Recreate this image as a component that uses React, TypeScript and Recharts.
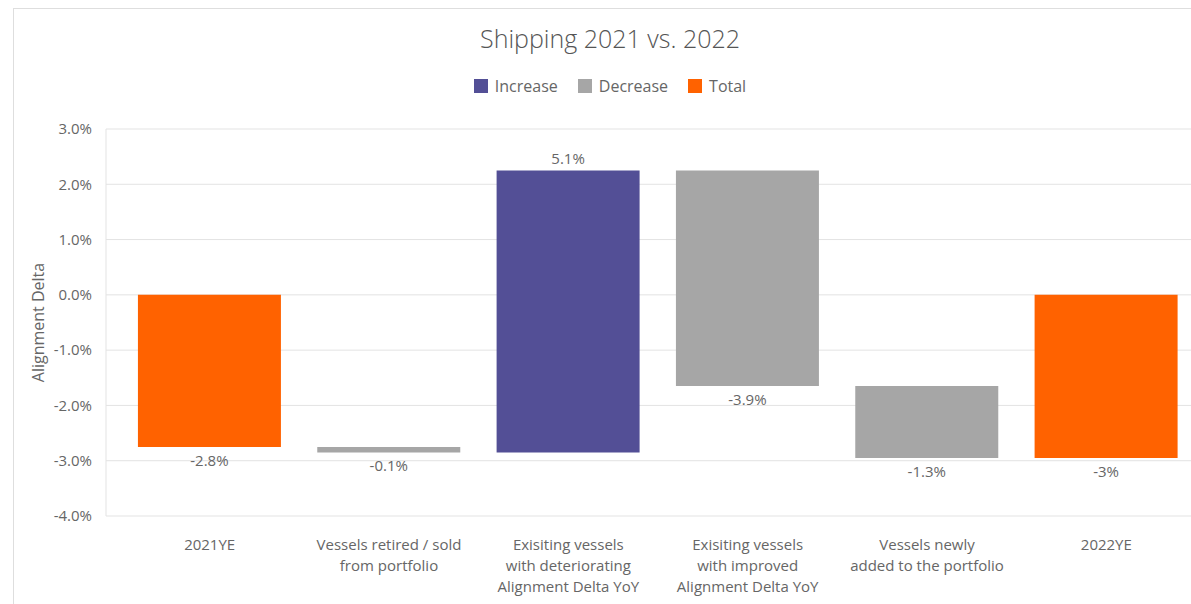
import React from "react";
import { BarChart, Bar, XAxis, YAxis, CartesianGrid, Cell, LabelList, Label } from "recharts";

const categories = [
  "2021YE",
  "Vessels retired / sold\nfrom portfolio",
  "Exisiting vessels\nwith deteriorating\nAlignment Delta YoY",
  "Exisiting vessels\nwith improved\nAlignment Delta YoY",
  "Vessels newly\nadded to the portfolio",
  "2022YE",
];
const kinds = ["total", "decrease", "increase", "decrease", "decrease", "total"];
const starts = [0, -2.75, -2.85, 2.25, -1.65, 0];
const ends = [-2.75, -2.85, 2.25, -1.65, -2.95, -2.95];
const valueLabels = ["-2.8%", "-0.1%", "5.1%", "-3.9%", "-1.3%", "-3%"];
const yTicks = [-4, -3, -2, -1, 0, 1, 2, 3];

const COLORS: Record<string, string> = { increase: "#534f96", decrease: "#a6a6a6", total: "#ff6200" };
const LEGEND = [
  { key: "increase", label: "Increase" },
  { key: "decrease", label: "Decrease" },
  { key: "total", label: "Total" },
];
const FONT = "'Open Sans', 'Noto Sans', sans-serif";
const TEXT = "#666";

const data = categories.map((name, i) => ({
  name,
  range: [Math.min(starts[i], ends[i]), Math.max(starts[i], ends[i])],
  kind: kinds[i],
}));

const CategoryTick = ({ x, y, payload }: any) => {
  const lines = String(payload.value).split("\n");
  return (
    <text x={x} y={y} textAnchor="middle" fill={TEXT} fontSize={15} fontFamily={FONT}>
      {lines.map((l, i) => (
        <tspan key={i} x={x} dy={i === 0 ? 26 : 21}>{l}</tspan>
      ))}
    </text>
  );
};

const ValueLabel = (props: any) => {
  const { x, y, width, height, index } = props;
  const top = Math.min(y, y + height);
  const bottom = Math.max(y, y + height);
  const up = kinds[index] === "increase";
  return (
    <text
      x={x + width / 2}
      y={up ? top - 12 : bottom + 13}
      textAnchor="middle"
      dominantBaseline="central"
      fill={TEXT}
      fontSize={15}
      fontFamily={FONT}
    >
      {valueLabels[index]}
    </text>
  );
};

export default function App() {
  return (
    <div style={{ position: "absolute", left: 0, top: 0, width: 1191, height: 604, overflow: "hidden", background: "#fff", fontFamily: FONT }}>
      <div style={{ position: "absolute", left: 13, top: 8, width: 1200, height: 600, border: "1px solid #dedede" }} />
      <div style={{ position: "absolute", left: 0, width: 1220, top: 21, textAlign: "center", fontSize: 25, color: "#555", fontWeight: 300 }}>
        Shipping 2021 vs. 2022
      </div>
      <div style={{ position: "absolute", left: 0, width: 1220, top: 75, display: "flex", justifyContent: "center", gap: 20, fontSize: 16, color: TEXT }}>
        {LEGEND.map((l) => (
          <div key={l.key} style={{ display: "flex", alignItems: "center", gap: 7 }}>
            <span style={{ width: 14, height: 14, background: COLORS[l.key], display: "inline-block" }} />
            <span>{l.label}</span>
          </div>
        ))}
      </div>
      <div style={{ position: "absolute", left: 0, top: 0 }}>
        <BarChart width={1196} height={604} data={data} margin={{ top: 129, right: 0, bottom: 8, left: 0 }} barCategoryGap="10%">
          <CartesianGrid vertical={false} stroke="#e3e3e3" />
          <XAxis
            dataKey="name"
            axisLine={false}
            tickLine={false}
            height={80}
            interval={0}
            tick={<CategoryTick />}
            padding={{ left: 14, right: 0 }}
          />
          <YAxis
            width={106}
            domain={[-4, 3]}
            ticks={yTicks}
            tickFormatter={(v: number) => `${v.toFixed(1)}%`}
            axisLine={{ stroke: "#e3e3e3" }}
            tickLine={false}
            tickSize={0}
            tickMargin={14}
            tick={{ fill: TEXT, fontSize: 15, fontFamily: FONT }}
          >
            <Label
              content={(p: any) => {
                const vb = p.viewBox;
                const cy = vb.y + vb.height / 2;
                return (
                  <text x={38} y={cy} transform={`rotate(-90 38 ${cy})`} textAnchor="middle" dominantBaseline="central" fill={TEXT} fontSize={16} fontFamily={FONT}>
                    Alignment Delta
                  </text>
                );
              }}
            />
          </YAxis>
          <Bar dataKey="range" isAnimationActive={false}>
            {data.map((d, i) => (
              <Cell key={i} fill={COLORS[d.kind]} />
            ))}
            <LabelList dataKey="range" content={<ValueLabel />} />
          </Bar>
        </BarChart>
      </div>
    </div>
  );
}
